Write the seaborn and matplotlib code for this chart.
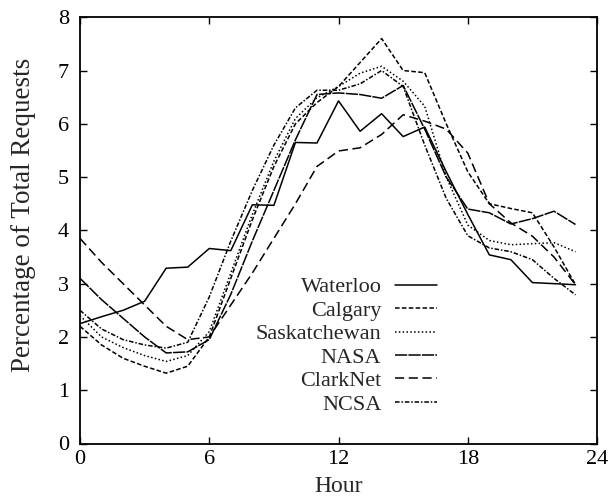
import numpy as np
import pandas as pd
import matplotlib
matplotlib.use("Agg")
import matplotlib.pyplot as plt
import seaborn as sns

hours = list(range(24))
waterloo = [2.25, 2.38, 2.5, 2.67, 3.29, 3.31, 3.66, 3.62, 4.48, 4.47, 5.65, 5.64,
            6.43, 5.86, 6.19, 5.76, 5.94, 5.1, 4.3, 3.54, 3.45, 3.02, 3.0, 2.98]
calgary = [2.2, 1.85, 1.6, 1.45, 1.32, 1.45, 2.0, 3.1, 4.2, 5.2, 6.0, 6.4,
           6.7, 7.15, 7.6, 7.0, 6.96, 6.0, 5.1, 4.5, 4.41, 4.33, 3.69, 2.98]
saskatchewan = [2.4, 2.0, 1.8, 1.65, 1.54, 1.65, 2.1, 3.2, 4.3, 5.3, 6.1, 6.49,
                6.7, 6.95, 7.08, 6.8, 6.33, 5.0, 4.1, 3.81, 3.73, 3.75, 3.77, 3.6]
nasa = [3.1, 2.7, 2.35, 2.0, 1.7, 1.72, 1.95, 2.8, 3.8, 4.75, 5.7, 6.55,
        6.58, 6.55, 6.48, 6.72, 5.9, 5.0, 4.4, 4.33, 4.12, 4.22, 4.36, 4.11]
clarknet = [3.85, 3.4, 3.0, 2.6, 2.2, 1.95, 2.0, 2.6, 3.2, 3.85, 4.5, 5.2,
            5.49, 5.55, 5.8, 6.17, 6.05, 5.9, 5.45, 4.5, 4.14, 3.89, 3.5, 2.98]
ncsa = [2.5, 2.15, 1.95, 1.85, 1.79, 1.9, 2.75, 3.8, 4.75, 5.6, 6.3, 6.63,
        6.63, 6.75, 7.0, 6.7, 5.6, 4.6, 3.9, 3.67, 3.6, 3.45, 3.1, 2.79]

sites = ["Waterloo", "Calgary", "Saskatchewan", "NASA", "ClarkNet", "NCSA"]
series = [waterloo, calgary, saskatchewan, nasa, clarknet, ncsa]
x_ticks = [0, 6, 12, 18, 24]
y_ticks = [0, 1, 2, 3, 4, 5, 6, 7, 8]

df = pd.DataFrame({
    "Hour": hours * len(sites),
    "Pct": sum(series, []),
    "Site": [s for s in sites for _ in hours],
})

sns.set_theme(style="ticks")
plt.rcParams["font.family"] = ["Liberation Serif", "DejaVu Serif"]

fig = plt.figure(figsize=(6.13, 5.0), dpi=100)
ax = fig.add_axes([0.1305, 0.113, 0.8435, 0.8525])

dashes = {
    "Waterloo": "",
    "Calgary": (3, 1.5),
    "Saskatchewan": (1, 1.5),
    "NASA": (8, 0.8),
    "ClarkNet": (6, 3),
    "NCSA": (3, 1.2, 1, 1.2),
}
palette = {s: "black" for s in sites}
sns.lineplot(data=df, x="Hour", y="Pct", hue="Site", style="Site",
             hue_order=sites, style_order=sites, palette=palette,
             dashes=dashes, linewidth=1.1, ax=ax, legend=True)

ax.set_xlim(0, 24)
ax.set_ylim(0, 8)
ax.set_xticks(x_ticks)
ax.set_yticks(y_ticks)
ax.tick_params(direction="in", length=5, width=1, top=True, right=True,
               labelsize=16, colors="black")
ax.tick_params(axis="x", pad=5)
ax.tick_params(axis="y", pad=8)
for sp in ax.spines.values():
    sp.set_visible(True)
    sp.set_linewidth(1.3)
    sp.set_color("black")
ax.set_xlabel("Hour", fontsize=17, labelpad=5)
ax.set_ylabel("Percentage of Total Requests", fontsize=19.5)
ax.yaxis.set_label_coords(-0.085, 0.537)

handles, labels = ax.get_legend_handles_labels()
leg = ax.legend(handles, labels, loc="upper right", bbox_to_anchor=(0.6905, 0.391),
                frameon=False, markerfirst=False, fontsize=16,
                borderpad=0, borderaxespad=0,
                handlelength=1.9, handletextpad=0.6, labelspacing=0.13)
for t in leg.get_texts():
    t.set_ha("right")
leg._legend_box.align = "right"

fig.savefig("out.png", dpi=100)
